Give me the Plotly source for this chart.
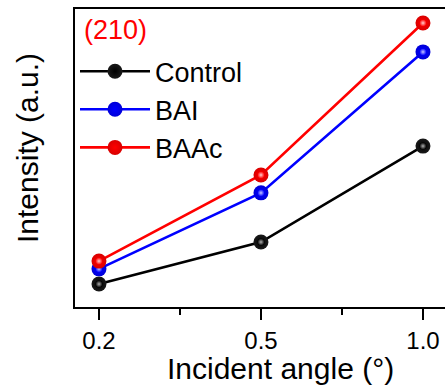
import plotly.graph_objects as go

# Grazing-incidence (210) peak intensity vs. incident angle
angles = ["0.2", "0.5", "1.0"]
positions = [0, 1, 2]
minor_positions = [0.5, 1.5]

control = [7.7, 21.8, 54.0]
bai = [12.8, 38.3, 85.6]
baac = [15.4, 44.3, 95.3]

series = [
    ("Control", control, "#000000", "#1a1a1a", "#b0b0b0"),
    ("BAI", bai, "#0000ff", "#0000d8", "#c8c8ff"),
    ("BAAc", baac, "#ff0000", "#d80000", "#ffd0d0"),
]

FONT = "Liberation Sans, Arial, sans-serif"

# plot-area geometry in pixels (used to place the axis titles)
PLOT_L, PLOT_W, PLOT_B, PLOT_H = 75, 370, 307, 298

fig = go.Figure()

for name, vals, line_col, edge_col, glint in series:
    # ball marker with darker rim
    fig.add_trace(go.Scatter(
        x=positions, y=vals, name=name, mode="lines+markers",
        legendgroup=name,
        line=dict(color=line_col, width=2.6),
        marker=dict(size=15, color=edge_col, line=dict(width=0),
                    gradient=dict(type="radial", color=line_col)),
    ))
    # specular highlight on each ball
    fig.add_trace(go.Scatter(
        x=positions, y=vals, mode="markers", showlegend=False, hoverinfo="skip",
        legendgroup=name,
        marker=dict(size=7, color=line_col, line=dict(width=0),
                    gradient=dict(type="radial", color=glint)),
    ))

fig.add_annotation(
    text="(210)", x=0.02, y=0.93, xref="paper", yref="paper",
    xanchor="left", yanchor="middle", showarrow=False,
    font=dict(family=FONT, size=27, color="#ff0000"),
)

# axis titles
fig.add_annotation(
    text="Incident angle (°)", x=(280 - PLOT_L) / PLOT_W, y=(PLOT_B - 368) / PLOT_H,
    xref="paper", yref="paper",
    xanchor="center", yanchor="middle", showarrow=False,
    font=dict(family=FONT, size=30, color="black"),
)
fig.add_annotation(
    text="Intensity (a.u.)", x=(27 - PLOT_L) / PLOT_W, y=(PLOT_B - 148) / PLOT_H,
    xref="paper", yref="paper",
    xanchor="center", yanchor="middle", showarrow=False, textangle=-90,
    font=dict(family=FONT, size=30, color="black"),
)

fig.update_layout(
    width=445, height=392,
    margin=dict(l=PLOT_L, r=0, t=9, b=392 - PLOT_B),
    paper_bgcolor="white", plot_bgcolor="white",
    font=dict(family=FONT, color="black"),
    showlegend=True,
    legend=dict(
        x=0.0, y=0.872, xanchor="left", yanchor="top",
        bgcolor="rgba(0,0,0,0)", font=dict(family=FONT, size=27),
        itemwidth=70, traceorder="grouped", tracegroupgap=0,
    ),
    xaxis=dict(
        range=[-0.148, 2.136], tickmode="array", tickvals=positions, ticktext=angles,
        showgrid=False, zeroline=False,
        showline=True, linecolor="black", linewidth=2, mirror=True,
        ticks="outside", ticklen=11, tickwidth=2, tickcolor="black",
        tickfont=dict(family=FONT, size=24),
        minor=dict(tickmode="array", tickvals=minor_positions, ticks="outside",
                   ticklen=6, tickwidth=2, tickcolor="black", showgrid=False),
    ),
    yaxis=dict(
        range=[0, 100], showticklabels=False, ticks="",
        showgrid=False, zeroline=False,
        showline=True, linecolor="black", linewidth=2, mirror=False,
    ),
)

fig.write_html("out.html")
